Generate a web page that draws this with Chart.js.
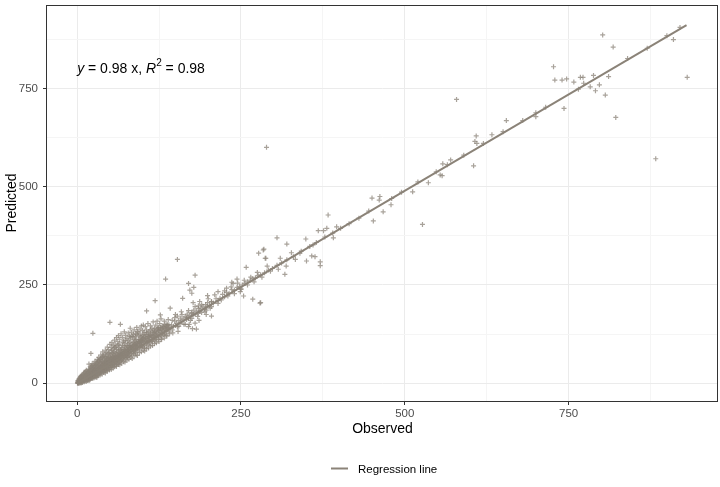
<!DOCTYPE html>
<html>
<head>
<meta charset="utf-8">
<script src="https://cdn.jsdelivr.net/npm/chart.js@4"></script>
<style>
  html, body { margin: 0; padding: 0; background: #fff; }
  #wrap { width: 720px; height: 487px; }
</style>
</head>
<body>
<div id="wrap"><canvas id="grafico" width="720" height="487"></canvas></div>
<script>
// observed / predicted pairs
const densePoints = [
  [0.5,1],[1,0],[1.5,2],[2,1],[2,4],[3,2],[3,5],[4,3],[4,1],[4.5,6],[5,4],[5,8],[5.5,2],[6,6],[6,10],
  [6.5,4],[7,7],[7,3],[7.5,9],[8,5],[8,11],[8.5,7],[9,4],[9,9],[9.5,12],[10,6],[10,8],[10,14],[1,3],
  [2.5,0],[3.5,7],[6,1],[8,2],[9,15],[5,11],[3,9],[7,13],[4,10],[2,6],[1,6],[6,18],[8,20],[10,22],[5,15],[7,17],
  [11,9],[11,13],[11.5,18],[12,7],[12,11],[12.5,15],[13,10],[13,20],[13.5,13],[14,9],[14,16],[14.5,24],[15,12],
  [15,18],[15.5,14],[16,11],[16,21],[16.5,16],[17,13],[17,26],[17.5,19],[18,15],[18,22],[18.5,30],[19,17],[19,12],
  [19.5,24],[20,19],[20,28],[20.5,15],[21,22],[21,33],[21.5,18],[22,25],[22,14],[22.5,29],[23,20],[23,36],[23.5,24],
  [24,17],[24,31],[24.5,27],[25,22],[25,40],[12,26],[15,30],[18,36],[20,42],[23,45],[11,4],[14,5],[17,8],[20,10],[24,13],
  [25.5,30],[26,25],[26,35],[26.5,20],[27,28],[27,44],[27.5,32],[28,24],[28,38],[28.5,29],[29,34],[29,48],[29.5,26],
  [30,31],[30,40],[30.5,22],[31,36],[31,52],[31.5,29],[32,33],[32,44],[32.5,38],[33,27],[33,58],[33.5,41],[34,35],
  [34,30],[35,47],[35,39],[35.5,62],[36,33],[36,42],[36.5,50],[37,37],[37,28],[37.5,45],[38,40],[38,55],[38.5,34],
  [39,48],[39,66],[39.5,42],[40,38],[40,52],[40.5,31],[41,45],[41,60],[41.5,40],[42,49],[42,36],[42.5,56],[43,43],
  [43,72],[43.5,47],[44,39],[44,58],[44.5,51],[45,45],[45,64],[45,33],
  [46,48],[46,40],[46.5,57],[47,52],[47,69],[47.5,44],[48,55],[48,48],[48.5,62],[49,50],[49,78],[49.5,42],[50,58],
  [50,53],[50.5,66],[51,47],[51,61],[51.5,72],[52,55],[52,50],[53,64],[53,45],[53.5,83],[54,58],[54,68],[55,52],
  [55,62],[55.5,75],[56,57],[56,88],[57,66],[57,49],[57.5,60],[58,70],[58,55],[59,63],[59,92],[60,60],[60,74],
  [60.5,52],[61,67],[61,80],[62,62],[62,57],[63,71],[63,98],[64,65],[64,78],[65,58],[65,70],[66,84],[66,66],[67,73],
  [67,60],[68,69],[68,90],[69,76],[69,63],[70,71],[70,104],
  [71,80],[71,66],[72,74],[72,95],[73,69],[73,82],[74,77],[74,110],[75,72],[75,88],[76,80],[76,66],[77,85],[77,100],
  [78,76],[78,92],[79,83],[79,70],[80,88],[80,80],[81,96],[81,118],[82,84],[82,73],[83,91],[84,86],[84,102],[85,80],
  [85,95],[86,90],[86,125],[87,99],[87,84],[88,93],[88,108],[89,88],[89,78],[90,96],[90,112],[91,92],[92,100],[92,87],
  [93,106],[93,130],[94,97],[95,92],[95,110],[96,102],[97,95],[97,118],[98,104],[99,98],[99,90],[100,108],[100,122],
  [101,100],[102,112],[103,105],[103,96],[104,118],[105,108],[106,102],[106,128],[107,113],[108,106],[109,120],
  [110,110],[110,100],[111,116],[112,124],[113,111],[114,118],[115,108],[116,122],[117,135],[118,117],[119,124],
  [120,112],[121,128],[122,120],[123,140],[124,125],[125,118],[126,130],[127,123],[128,138],[129,128],[130,126],
  [131,134],[132,145],[133,131],[134,126],[135,138],[136,133],[137,150],[138,136],[139,142],[140,131],[128,112],[134,150]
];

const wideBandPoints = [
  [2,8],[3,12],[4,14],[5,18],[6,3],[7,20],[8,14],[9,18],[10,26],[11,20],[11,28],[12,19],[13,30],[13,6],[14,20],
  [14,33],[15,8],[15,24],[16,27],[16,7],[17,31],[18,10],[18,26],[19,34],[19,8],[20,24],[20,33],[21,12],[21,38],
  [22,19],[22,44],[23,13],[23,30],[24,38],[24,22],[25,16],[25,34],[26,44],[26,14],[27,37],[27,19],[28,46],[28,16],
  [29,40],[29,21],[30,50],[30,18],[31,24],[31,44],[32,56],[32,22],[33,36],[33,47],[34,25],[34,54],[35,28],[35,43],
  [36,60],[36,26],[37,52],[37,40],[38,30],[38,64],[39,36],[39,55],[40,28],[40,46],[40,70],[41,34],[41,52],[42,42],
  [42,64],[43,32],[43,55],[44,46],[44,68],[45,38],[45,54],[46,62],[46,34],[47,46],[47,76],[48,40],[48,66],[49,58],
  [49,36],[50,46],[50,74],[51,55],[51,40],[52,66],[52,84],[53,52],[53,42],[54,76],[54,48],[55,68],[55,44],[56,64],
  [56,80],[57,54],[57,92],[58,46],[58,78],[59,56],[59,70],[60,48],[60,86],[61,58],[61,96],[62,70],[62,50],[63,62],
  [63,84],[64,54],[64,90],[65,76],[65,100],[66,56],[66,74],[67,86],[67,66],[68,58],[68,80],[69,96],[69,70],[70,62],
  [70,84],[72,66],[72,86],[73,102],[74,64],[74,92],[75,80],[76,96],[76,72],[77,68],[78,86],[78,108],[79,96],[80,70],
  [80,104],[81,86],[82,95],[82,112],[83,76],[84,94],[84,120],[85,88],[86,76],[86,104],[87,112],[88,82],[88,98],
  [89,118],[90,86],[90,104],[91,124],[92,94],[93,84],[94,112],[95,102],[96,90],[96,126],[97,108],[98,96],[98,118],
  [99,110],[100,94],[101,116],[102,130],[103,90],[104,106],[105,124],[106,114],[107,98],[108,128],[109,108],[110,120],
  [111,104],[112,136],[113,122],[114,106],[115,130],[116,112],[117,118],[118,140],[119,110],[120,132],[121,116],
  [122,138],[124,112],[125,134],[127,142],[129,120],[130,146],[132,124],[134,140],[136,122],[138,148],[140,140]
];

const bandEdgePoints = [
  [21,41],[23,50],[25,47],[27,56],[29,53],[31,61],[33,66],[34,60],[36,72],[38,68],[39,80],[41,74],[43,84],[45,79],
  [46,92],[48,86],[50,99],[52,91],[53,104],[55,96],[57,110],[58,100],[60,116],[62,106],[63,121],[65,112],[67,126],
  [69,117],[71,108],[72,131],[74,122],[76,114],[78,128],[80,120],[81,140],[83,130],[85,118],[87,136],[89,126],
  [91,142],[92,132],[94,122],[96,138],[98,146],[100,134],[102,124],[104,144],[106,136],[108,152],[110,132],
  [112,146],[114,140],[116,156],[118,130],[120,148],[122,158],[124,142],[126,152],[128,164],[130,140],[133,158],
  [136,146],[139,162],
  [30,15],[32,19],[35,21],[38,23],[41,28],[43,26],[46,31],[49,34],[52,35],[55,39],[57,42],[60,43],[63,48],[65,47],
  [68,51],[71,55],[73,54],[76,59],[79,61],[82,66],[84,63],[87,70],[90,72],[92,71],[95,78],[98,80],[101,84],[103,82],
  [106,88],[109,90],[112,95],[115,96],[118,101],[121,103],[125,106],[129,112],[133,115],[137,120],[141,126],
  [12,13],[14,12],[16,17],[18,19],[20,21],[22,23],[24,26],[26,29],[28,31],[30,34],[32,35],[34,38],[36,39],[38,43],
  [40,44],[42,46],[44,49],[46,52],[48,53],[50,56],[52,58],[54,61],[56,62],[58,65],[60,67],[62,69],[64,71],[66,72],
  [68,75],[70,77],[72,80],[74,81],[76,85],[78,86],[80,89],[82,91],[84,93],[86,96],[88,97],[90,100],[92,101],
  [94,105],[96,106],[98,109],[100,113],[104,115],[108,119],[112,121],[116,128],[120,126],[124,135],[128,136],
  [132,141],[136,143],[140,149]
];

const midPoints = [
  [142,140],[144,148],[145,136],[147,145],[149,158],[150,147],[152,153],[153,144],[155,160],[157,152],[158,166],
  [160,158],[162,163],[163,150],[165,170],[167,162],[168,176],[170,166],[172,172],[173,160],[175,180],[177,174],
  [178,186],[180,176],[182,182],[184,170],[185,190],[187,184],[189,192],[190,180],[192,196],[194,188],[196,200],
  [198,194],[199,205],[146,128],[154,132],[171,150],[186,160],[197,175],
  [145,160],[150,175],[155,145],[160,175],[165,150],[170,185],[175,165],[180,195],[185,178],[190,200],[195,182],
  [200,215],[205,195],[210,225],[215,203],[220,212],[225,235],[230,222],[235,245],[240,228],[245,255],[250,240],
  [255,262],[260,250],[265,270],[270,258],[275,282],[282,270],[290,298],[295,285],
  [202,198],[205,207],[208,204],[212,215],[215,210],[218,216],[222,226],[225,220],[228,231],[232,228],[236,238],
  [240,236],[244,244],[248,246],[252,250],[256,254],[260,258],[264,262],[268,266],[272,268],[276,274],[280,276],
  [286,281],[292,288],[298,292],
  [305,300],[312,306],[320,314],[330,322],[342,336],[355,348],[365,358],[378,372],[390,382],[402,394],[415,406],
  [430,420],[445,438],[480,470],[495,486],[520,512],[548,538],[565,556],[590,580],[620,610],[650,640],[680,668],
  [700,688],[715,702],[840,826],[870,852],[900,884],[920,905]
];

const outlierPoints = [
  [802,886],[818,855],[727,805],[729,771],[740,771],[747,774],[758,766],[768,778],[772,778],[773,763],[788,783],
  [765,748],[783,754],[791,744],[797,759],[811,780],[806,733],[743,699],[822,676],[910,874],[931,778],[883,571],
  [700,678],[579,722],[655,668],[633,632],[609,629],[607,615],[610,610],[605,553],[570,568],[558,558],[554,530],[557,528],
  [289,600],[450,471],[462,475],[461,466],[467,436],[452,413],[479,454],[512,487],[536,510],[527,404],[383,428],
  [396,398],[391,370],[368,388],[376,388],[381,394],[371,309],[371,299],[305,370],[320,354],[349,367],[360,352],
  [363,322],[358,324],[350,311],[333,315],[319,298],[317,277],[307,290],[310,318],[287,318],[285,341],[279,204],
  [327,332],[340,331],
  [153,315],[135,265],[180,275],[170,254],[178,244],[172,237],[175,229],[119,210],[161,216],[106,184],[142,191],
  [258,295],[277,331],[284,339],[288,318],[254,222],[268,214],[280,205],[249,233],[215,233],[228,242],[205,208],
  [177,205],[187,208],[236,257],[244,265],[238,254],[250,239],[199,223],[197,186],[205,171],[180,153],[170,144],
  [176,139],[182,138],[203,191],[185,197],[127,174],[101,148],[153,171],[159,182],[167,167],[175,178],[149,167],
  [50,155],[66,150],[24,127],[21,76],[18,49]
];

// fitted line end points
const lineObserved = [0, 930];
const linePredicted = [0, 911];

const tickValues = [0, 125, 250, 375, 500, 625, 750, 875];
const labeledTicks = [0, 250, 500, 750];

const equationPos = [0, 800];
const legendLabel = 'Regression line';

const allPoints = densePoints.concat(wideBandPoints, bandEdgePoints, midPoints, outlierPoints)
      .map(p => ({ x: p[0], y: p[1] }));
const linePoints = lineObserved.map((x, i) => ({ x: x, y: linePredicted[i] }));

Chart.defaults.font.family = '"Liberation Sans", Arial, sans-serif';

const pointColor = 'rgba(139, 131, 120, 0.75)';
const lineColor = '#8b8378';

const setTicks = (scale) => {
      scale.ticks = tickValues.map(v => ({ value: v }));
};

const noPadding = (s) => {
      s.paddingTop = 0;
      s.paddingBottom = 0;
      s.paddingLeft = 0;
      s.paddingRight = 0;
};

const gridOptions = {
      color: (c) => c.tick && labeledTicks.includes(c.tick.value) ? '#ebebeb' : '#f5f5f5',
      lineWidth: 1,
      tickLength: 4,
      tickColor: (c) => c.tick && labeledTicks.includes(c.tick.value) ? '#333333' : 'rgba(0,0,0,0)'
};

const tickLabel = (value) => labeledTicks.includes(value) ? String(value) : '';

// panel border, equation label and legend
const extras = {
      id: 'extras',
      afterDraw(chart) {
            const ctx = chart.ctx;
            const a = chart.chartArea;
            ctx.save();
            ctx.strokeStyle = '#333333';
            ctx.lineWidth = 1;
            ctx.strokeRect(Math.round(a.left) - 0.5, Math.round(a.top) + 0.5,
                  Math.round(a.right - a.left), Math.round(a.bottom - a.top));

            // equation
            const fam = '"Liberation Sans", Arial, sans-serif';
            let x = chart.scales.x.getPixelForValue(equationPos[0]);
            const y = chart.scales.y.getPixelForValue(equationPos[1]);
            ctx.fillStyle = '#000000';
            ctx.textBaseline = 'middle';
            ctx.textAlign = 'left';
            const parts = [
                  ['y', 'italic 14px ' + fam, 0],
                  [' = 0.98 x, ', '14px ' + fam, 0],
                  ['R', 'italic 14px ' + fam, 0],
                  ['2', '10px ' + fam, -5],
                  [' = 0.98', '14px ' + fam, 0]
            ];
            parts.forEach(p => {
                  ctx.font = p[1];
                  ctx.fillText(p[0], x, y + p[2]);
                  x += ctx.measureText(p[0]).width;
            });

            // legend
            ctx.strokeStyle = lineColor;
            ctx.lineWidth = 2;
            ctx.beginPath();
            ctx.moveTo(331, 468.5);
            ctx.lineTo(348, 468.5);
            ctx.stroke();
            ctx.font = '11.5px ' + fam;
            ctx.fillStyle = '#000000';
            ctx.fillText(legendLabel, 358, 469.5);
            ctx.restore();
      }
};

const ctx = document.getElementById('grafico').getContext('2d');

const grafico = new Chart(ctx, {
      type: 'scatter',
      data: {
            datasets: [{
                  type: 'line',
                  label: legendLabel,
                  data: linePoints,
                  borderColor: lineColor,
                  borderWidth: 2,
                  pointRadius: 0,
                  showLine: true,
                  fill: false
            }, {
                  label: 'Points',
                  data: allPoints,
                  pointStyle: 'cross',
                  pointRadius: 2.5,
                  pointBorderWidth: 1.2,
                  borderColor: pointColor,
                  backgroundColor: pointColor
            }]
      },
      options: {
            responsive: false,
            animation: false,
            layout: {
                  autoPadding: false,
                  padding: { top: 5, right: 2, bottom: 49, left: 0 }
            },
            plugins: {
                  legend: { display: false },
                  tooltip: { enabled: false }
            },
            scales: {
                  x: {
                        type: 'linear',
                        min: -46,
                        max: 978,
                        afterBuildTicks: setTicks,
                        afterFit: (s) => { s.height = 37; noPadding(s); },
                        grid: gridOptions,
                        border: { display: false },
                        ticks: {
                              callback: tickLabel,
                              color: '#4d4d4d',
                              font: { size: 11.5 },
                              padding: 2,
                              maxRotation: 0,
                              autoSkip: false
                        },
                        title: {
                              display: true,
                              text: 'Observed',
                              color: '#000000',
                              font: { size: 14 },
                              padding: { top: 0, bottom: 0 }
                        }
                  },
                  y: {
                        type: 'linear',
                        min: -45,
                        max: 962,
                        afterBuildTicks: setTicks,
                        afterFit: (s) => { s.width = 47; noPadding(s); },
                        grid: gridOptions,
                        border: { display: false },
                        ticks: {
                              callback: tickLabel,
                              color: '#4d4d4d',
                              font: { size: 11.5 },
                              padding: 5,
                              autoSkip: false
                        },
                        title: {
                              display: true,
                              text: 'Predicted',
                              color: '#000000',
                              font: { size: 14 },
                              padding: { top: 4, bottom: 0 }
                        }
                  }
            }
      },
      plugins: [extras]
});
</script>
</body>
</html>
